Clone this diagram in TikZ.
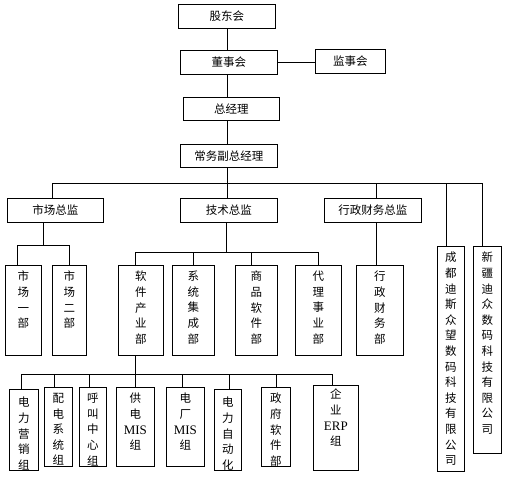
\documentclass[tikz,border=0pt]{standalone}
\usepackage{fontspec}
\newfontfamily\cjkfont{Noto Sans CJK SC}
\newfontfamily\latinfont{Liberation Serif}
\usepackage{tikz}
\usetikzlibrary{positioning}

\begin{document}
\begin{tikzpicture}[x=1pt, y=-1pt,
    box/.style={draw=black, fill=white, line width=0.8pt, anchor=north west, inner sep=0pt, font=\cjkfont\fontsize{11.5}{14}\selectfont},
    vbox/.style={draw=black, fill=white, line width=0.8pt, anchor=north west, inner sep=0pt},
    vtext/.style={font=\cjkfont\fontsize{11.5}{15.6}\selectfont, align=center, anchor=north, inner sep=0pt, yshift=-6pt},
    conn/.style={draw=black, line width=0.8pt}
]
\useasboundingbox (0,0) rectangle (512,477);

% top of the chart
\node[box, minimum width=97pt, minimum height=24pt] (gudong) at (178,4) {股东会};
\node[box, minimum width=97pt, minimum height=24pt] (dongshi) at (180,50) {董事会};
\node[box, minimum width=70pt, minimum height=24pt] (jianshi) at (315,49) {监事会};
\node[box, minimum width=96pt, minimum height=23pt] (zjl) at (183,97) {总经理};
\node[box, minimum width=97pt, minimum height=23pt] (changwu) at (180,144) {常务副总经理};

% directors
\node[box, minimum width=96pt, minimum height=24pt] (shichang) at (7,198) {市场总监};
\node[box, minimum width=97pt, minimum height=24pt] (jishu) at (180,198) {技术总监};
\node[box, minimum width=97pt, minimum height=24pt] (xzcw) at (324,198) {行政财务总监};

% subsidiaries
\node[vbox, minimum width=27pt, minimum height=225pt, label={[vtext]north:{成\\都\\迪\\斯\\众\\望\\数\\码\\科\\技\\有\\限\\公\\司}}] (chengdu) at (437,246) {};
\node[vbox, minimum width=28pt, minimum height=207pt, label={[vtext]north:{新\\疆\\迪\\众\\数\\码\\科\\技\\有\\限\\公\\司}}] (xinjiang) at (473,246) {};

% departments
\node[vbox, minimum width=36pt, minimum height=90pt, label={[vtext]north:{市\\场\\一\\部}}] (sc1) at (5,265) {};
\node[vbox, minimum width=34pt, minimum height=90pt, label={[vtext]north:{市\\场\\二\\部}}] (sc2) at (52,265) {};
\node[vbox, minimum width=45pt, minimum height=90pt, label={[vtext]north:{软\\件\\产\\业\\部}}] (rj) at (118,265) {};
\node[vbox, minimum width=42pt, minimum height=90pt, label={[vtext]north:{系\\统\\集\\成\\部}}] (xt) at (172,265) {};
\node[vbox, minimum width=42pt, minimum height=90pt, label={[vtext]north:{商\\品\\软\\件\\部}}] (sp) at (235,265) {};
\node[vbox, minimum width=46pt, minimum height=90pt, label={[vtext]north:{代\\理\\事\\业\\部}}] (dl) at (295,265) {};
\node[vbox, minimum width=47pt, minimum height=90pt, label={[vtext]north:{行\\政\\财\\务\\部}}] (xzb) at (356,265) {};

% groups
\node[vbox, minimum width=29pt, minimum height=81pt, label={[vtext, yshift=-2pt]north:{电\\力\\营\\销\\组}}] (g1) at (9,389) {};
\node[vbox, minimum width=28pt, minimum height=79pt, label={[vtext]north:{配\\电\\系\\统\\组}}] (g2) at (44,387) {};
\node[vbox, minimum width=27pt, minimum height=79pt, label={[vtext]north:{呼\\叫\\中\\心\\组}}] (g3) at (79,387) {};
\node[vbox, minimum width=38pt, minimum height=79pt, label={[vtext]north:{供\\电\\{\latinfont\fontsize{13}{15.6}\selectfont MIS}\\组}}] (g4) at (116,387) {};
\node[vbox, minimum width=38pt, minimum height=79pt, label={[vtext]north:{电\\厂\\{\latinfont\fontsize{13}{15.6}\selectfont MIS}\\组}}] (g5) at (166,387) {};
\node[vbox, minimum width=27pt, minimum height=81pt, label={[vtext, yshift=-2pt]north:{电\\力\\自\\动\\化}}] (g6) at (214,389) {};
\node[vbox, minimum width=29pt, minimum height=79pt, label={[vtext]north:{政\\府\\软\\件\\部}}] (g7) at (261,387) {};
\node[vbox, minimum width=45pt, minimum height=85pt, label={[vtext, yshift=2pt]north:{企\\业\\{\latinfont\fontsize{13}{15.6}\selectfont ERP}\\组}}] (g8) at (313,385) {};

% bus lines
\coordinate (bus) at (0,183);
\coordinate (scbus) at (0,245);
\coordinate (jsbus) at (0,252);
\coordinate (gbus) at (0,374);

% trunk
\draw[conn] (gudong.south) -- (gudong.south |- dongshi.north);
\draw[conn] (gudong.south |- dongshi.south) -- (gudong.south |- zjl.north);
\draw[conn] (gudong.south |- zjl.south) -- (gudong.south |- changwu.north);
\draw[conn] (gudong.south |- changwu.south) -- (gudong.south |- jishu.north);
\draw[conn] (dongshi.east) -- (dongshi.east -| jianshi.west);

% main bus
\draw[conn] ([xshift=-3pt]shichang.north) -- ([xshift=-3pt]shichang.north |- bus) -- ([xshift=-5pt]xinjiang.north |- bus) -- ([xshift=-5pt]xinjiang.north);
\draw[conn] ([xshift=3.5pt]xzcw.north |- bus) -- ([xshift=3.5pt]xzcw.north);
\draw[conn] ([xshift=-5pt]chengdu.north |- bus) -- ([xshift=-5pt]chengdu.north);

% market
\draw[conn] ([xshift=-12pt]shichang.south) -- ([xshift=-12pt]shichang.south |- scbus);
\draw[conn] ([xshift=-6pt]sc1.north) -- ([xshift=-6pt]sc1.north |- scbus) -- (sc2.north |- scbus) -- (sc2.north);

% technology
\draw[conn] ([xshift=-2.5pt]jishu.south) -- ([xshift=-2.5pt]jishu.south |- jsbus);
\draw[conn] ([xshift=-6pt]rj.north) -- ([xshift=-6pt]rj.north |- jsbus) -- (dl.north |- jsbus) -- (dl.north);
\draw[conn] (xt.north |- jsbus) -- (xt.north);
\draw[conn] ([xshift=-5pt]sp.north |- jsbus) -- ([xshift=-5pt]sp.north);

% administration
\draw[conn] ([xshift=3.5pt]xzcw.south) -- ([xshift=3.5pt]xzcw.south |- xzb.north);

% software groups
\draw[conn] ([xshift=-5.5pt]rj.south) -- ([xshift=-5.5pt]rj.south |- gbus);
\draw[conn] ([xshift=-2.5pt]g1.north) -- ([xshift=-2.5pt]g1.north |- gbus) -- ([xshift=-3.5pt]g8.north |- gbus) -- ([xshift=-3.5pt]g8.north);
\draw[conn] ([xshift=-4pt]g2.north |- gbus) -- ([xshift=-4pt]g2.north);
\draw[conn] ([xshift=-3.5pt]g3.north |- gbus) -- ([xshift=-3.5pt]g3.north);
\draw[conn] (g4.north |- gbus) -- (g4.north);
\draw[conn] ([xshift=-3pt]g5.north |- gbus) -- ([xshift=-3pt]g5.north);
\draw[conn] ([xshift=1.5pt]g6.north |- gbus) -- ([xshift=1.5pt]g6.north);
\draw[conn] (g7.north |- gbus) -- (g7.north);
\end{tikzpicture}
\end{document}
